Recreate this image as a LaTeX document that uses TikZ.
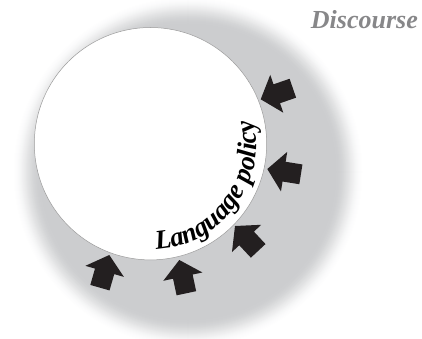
\documentclass[tikz,border=0pt]{standalone}
\usepackage{fontspec}
\setmainfont{Liberation Serif}
\usetikzlibrary{decorations.text,calc}
\definecolor{discgray}{RGB}{204,205,207}
\definecolor{arrowblack}{RGB}{35,31,32}
\definecolor{rimgray}{RGB}{155,155,155}
\definecolor{wordgray}{RGB}{135,135,137}
\tikzset{
  blockarrow/.style={fill=arrowblack},
  rim/.style={circle, fill=white, draw=rimgray, line width=0.5pt, inner sep=0pt},
  label text/.style={font=\fontsize{26}{30}\selectfont\bfseries\itshape, text=wordgray, inner sep=0pt},
}
\begin{document}
\begin{tikzpicture}[x=1pt,y=1pt]
\useasboundingbox (0,0) rectangle (422,338);
\coordinate (G) at (188,166);
\coordinate (C) at (150.5,194.3);
% soft grey disc
\foreach \i in {0,...,28}{
  \pgfmathtruncatemacro\p{100*(3*(\i/28)^2-2*(\i/28)^3)}
  \pgfmathsetmacro\r{176-\i}
  \fill[discgray!\p!white] (G) circle[radius=\r pt];
}
\fill[discgray] (G) circle[radius=148pt];
% white circle
\node[rim, minimum size=232.4pt] (disc) at (C) {};
% block arrows
\foreach \x/\y/\a in {260.7/238.7/199, 267.3/169/171, 235/112/133, 179.3/78/102, 109.3/83/74}{
  \fill[blockarrow, shift={(\x,\y)}, rotate=\a]
    (0,0) -- (-17,20) -- (-17,10) -- (-34,10) -- (-34,-10) -- (-17,-10) -- (-17,-20) -- cycle;
}
% curved text
\path[decorate, decoration={text along path, text align=left,
  text format delimiters={|}{|},
  text={|\fontsize{27}{30}\selectfont\bfseries\itshape|Language policy}}]
  ($(C)+(-87:106pt)$) arc[start angle=-87, end angle=30, radius=106pt];
% title
\node[label text, anchor=base] (discourse) at (364.4,309.7) {Discourse};
\end{tikzpicture}
\end{document}
